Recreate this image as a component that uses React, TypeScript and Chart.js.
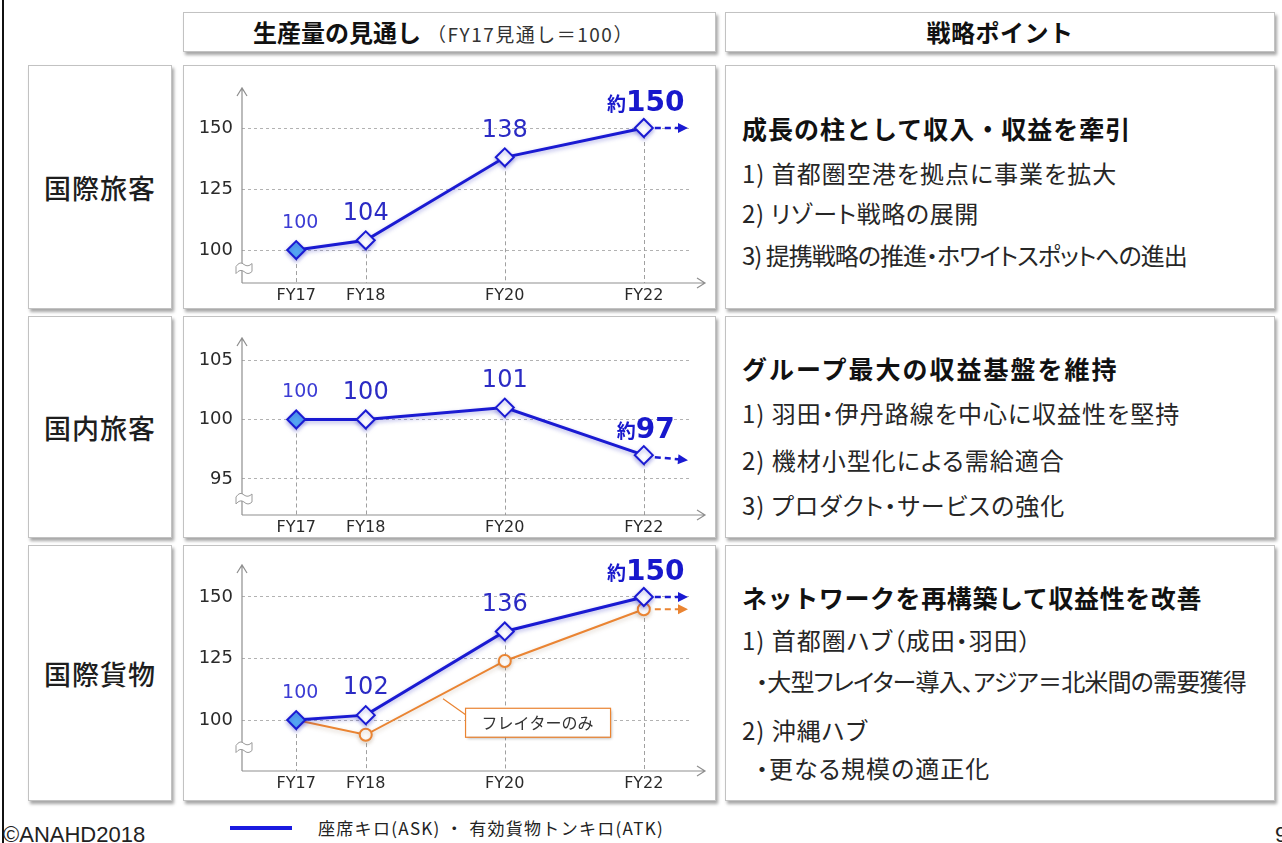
import React, { useEffect, useRef } from 'react';
import { Chart, registerables } from 'chart.js';

Chart.register(...registerables);

// Fiscal years on the horizontal axis and their tick captions
const FY_YEARS = [2017, 2018, 2020, 2022];
const FY_LABELS = ['FY17', 'FY18', 'FY20', 'FY22'];

// Capacity outlook, FY17 = 100
const INTL_PAX = [100, 104, 138, 150];
const DOM_PAX = [100, 100, 101, 97];
const INTL_CARGO = [100, 102, 136, 150];
const FREIGHTER_ONLY = [100, 94, 124, 145];

// Y tick values per panel
const INTL_PAX_TICKS = [100, 125, 150];
const DOM_PAX_TICKS = [95, 100, 105];
const INTL_CARGO_TICKS = [100, 125, 150];

const BLUE = '#1a1ad2';
const ORANGE = '#ea8432';
const JP = '"Noto Sans CJK JP", "Noto Sans", sans-serif';
const NUM = '"DejaVu Sans", Verdana, sans-serif';

type Series = {
  values: number[];
  color: string;
  main: boolean;
  approxLast?: boolean;
  trendDrop?: number;
};

type ChartProps = {
  left: number;
  top: number;
  width: number;
  height: number;
  padTop: number;
  axisY: number;
  yMin: number;
  yMax: number;
  yTicks: number[];
  series: Series[];
  callout?: string;
};

function TrendChart(p: ChartProps) {
  const ref = useRef<HTMLCanvasElement>(null);

  useEffect(() => {
    const canvas = ref.current;
    if (!canvas) return;

    const datasets = p.series.map((s) => ({
      data: FY_YEARS.map((x, i) => ({ x, y: s.values[i] })),
      borderColor: s.color,
      borderWidth: s.main ? 3 : 2,
      pointStyle: s.main ? 'rectRot' : 'circle',
      pointRadius: s.main ? 9 : s.values.map((_, i) => (i === 0 ? 0 : 6)),
      pointHoverRadius: s.main ? 9 : 6,
      pointBorderWidth: 2,
      pointBorderColor: s.color,
      pointBackgroundColor: s.main
        ? s.values.map((_, i) => (i === 0 ? '#55a7f2' : '#ffffff'))
        : '#ffffff',
      tension: 0,
    }));

    const decor = {
      id: 'decor',
      beforeDatasetsDraw(chart: any) {
        const { ctx, chartArea, scales } = chart;
        const L = chartArea.left;
        const B = chartArea.bottom;
        const T = chartArea.top;
        const R = chartArea.right + 16;
        ctx.save();
        // drop lines from the highest series down to the axis
        const meta0 = chart.getDatasetMeta(0);
        ctx.strokeStyle = '#a0a0a0';
        ctx.lineWidth = 1;
        ctx.setLineDash([4, 3]);
        meta0.data.forEach((pt: any) => {
          ctx.beginPath();
          ctx.moveTo(Math.round(pt.x) + 0.5, pt.y);
          ctx.lineTo(Math.round(pt.x) + 0.5, B);
          ctx.stroke();
        });
        ctx.setLineDash([]);
        // axes with open arrow heads
        ctx.strokeStyle = '#8f8f8f';
        ctx.lineWidth = 1.2;
        ctx.beginPath();
        ctx.moveTo(L, B);
        ctx.lineTo(L, T);
        ctx.moveTo(L, B);
        ctx.lineTo(R, B);
        ctx.moveTo(L - 5, T + 8);
        ctx.lineTo(L, T);
        ctx.lineTo(L + 5, T + 8);
        ctx.moveTo(R - 8, B - 5);
        ctx.lineTo(R, B);
        ctx.lineTo(R - 8, B + 5);
        ctx.stroke();
        // axis break mark below the lowest tick
        const low = scales.y.getPixelForValue(p.yTicks[0]);
        const by = (low + B) / 2 + 2;
        const bx = L + 2;
        ctx.beginPath();
        ctx.moveTo(bx - 8, by - 2);
        ctx.quadraticCurveTo(bx - 4, by - 8, bx, by - 4);
        ctx.quadraticCurveTo(bx + 4, by - 1, bx + 8, by - 5);
        ctx.lineTo(bx + 8, by + 3);
        ctx.quadraticCurveTo(bx + 4, by + 7, bx, by + 3);
        ctx.quadraticCurveTo(bx - 4, by, bx - 8, by + 5);
        ctx.closePath();
        ctx.fillStyle = '#ffffff';
        ctx.fill();
        ctx.strokeStyle = '#9a9a9a';
        ctx.lineWidth = 1;
        ctx.stroke();
        ctx.restore();
      },
      beforeDatasetDraw(chart: any, args: any) {
        const { ctx } = chart;
        ctx.save();
        const main = p.series[args.index].main;
        ctx.shadowColor = main ? 'rgba(40,40,190,0.35)' : 'rgba(120,80,40,0.25)';
        ctx.shadowBlur = 4;
        ctx.shadowOffsetY = 2;
      },
      afterDatasetDraw(chart: any) {
        chart.ctx.restore();
      },
      afterDatasetsDraw(chart: any) {
        const { ctx, chartArea } = chart;
        ctx.save();
        // dashed trend arrows beyond the last year
        p.series.forEach((s, si) => {
          const meta = chart.getDatasetMeta(si);
          const last = meta.data[meta.data.length - 1];
          const x0 = last.x + 11;
          const x1 = chartArea.right - 1;
          const y0 = last.y + (s.trendDrop ? 2 : 0);
          const y1 = last.y + (s.trendDrop || 0);
          const ang = Math.atan2(y1 - y0, x1 - x0);
          ctx.strokeStyle = s.color;
          ctx.fillStyle = s.color;
          ctx.lineWidth = s.main ? 2.5 : 2;
          ctx.setLineDash([6, 4]);
          ctx.beginPath();
          ctx.moveTo(x0, y0);
          ctx.lineTo(x1 - 7 * Math.cos(ang), y1 - 7 * Math.sin(ang));
          ctx.stroke();
          ctx.setLineDash([]);
          ctx.beginPath();
          ctx.moveTo(x1, y1);
          ctx.lineTo(x1 - 10 * Math.cos(ang) + 5 * Math.sin(ang), y1 - 10 * Math.sin(ang) - 5 * Math.cos(ang));
          ctx.lineTo(x1 - 10 * Math.cos(ang) - 5 * Math.sin(ang), y1 - 10 * Math.sin(ang) + 5 * Math.cos(ang));
          ctx.closePath();
          ctx.fill();
        });

        // value labels above the main series
        const mainIdx = p.series.findIndex((s) => s.main);
        const ms = p.series[mainIdx];
        const meta = chart.getDatasetMeta(mainIdx);
        meta.data.forEach((pt: any, i: number) => {
          const v = ms.values[i];
          const y = pt.y - 27;
          const isLast = i === meta.data.length - 1;
          if (isLast && ms.approxLast) {
            ctx.textBaseline = 'alphabetic';
            ctx.textAlign = 'left';
            ctx.font = `bold 19px ${JP}`;
            const w1 = ctx.measureText('約').width;
            ctx.font = `bold 28px ${NUM}`;
            const w2 = ctx.measureText(String(v)).width;
            const sx = pt.x - (w1 + w2) / 2 + 2;
            ctx.fillStyle = '#1818cc';
            ctx.font = `bold 19px ${JP}`;
            ctx.fillText('約', sx, y + 10);
            ctx.font = `bold 28px ${NUM}`;
            ctx.fillText(String(v), sx + w1, y + 10);
          } else {
            ctx.textBaseline = 'middle';
            ctx.textAlign = 'center';
            ctx.fillStyle = i === 0 ? '#3c3cd4' : '#2b2bc4';
            ctx.font = i === 0 ? `19px ${NUM}` : `24px ${NUM}`;
            ctx.fillText(String(v), pt.x + (i === 0 ? 4 : 0), y);
          }
        });

        // callout for the secondary series
        if (p.callout) {
          const subIdx = p.series.findIndex((s) => !s.main);
          const sm = chart.getDatasetMeta(subIdx);
          const a = sm.data[1];
          const b = sm.data[2];
          const t = 0.556;
          const ax = a.x + (b.x - a.x) * t;
          const ay = a.y + (b.y - a.y) * t + 5;
          const bx = ax + 22;
          const byy = ay + 9;
          const bw = 145;
          const bh = 29;
          ctx.strokeStyle = ORANGE;
          ctx.lineWidth = 1.2;
          ctx.beginPath();
          ctx.moveTo(ax, ay);
          ctx.lineTo(bx + 2, byy + 8);
          ctx.stroke();
          ctx.save();
          ctx.shadowColor = 'rgba(0,0,0,0.3)';
          ctx.shadowBlur = 3;
          ctx.shadowOffsetX = 2;
          ctx.shadowOffsetY = 2;
          ctx.fillStyle = '#ffffff';
          ctx.fillRect(bx, byy, bw, bh);
          ctx.restore();
          ctx.strokeRect(bx + 0.5, byy + 0.5, bw, bh);
          ctx.fillStyle = '#333333';
          ctx.font = `16px ${JP}`;
          ctx.textAlign = 'center';
          ctx.textBaseline = 'middle';
          ctx.fillText(p.callout, bx + bw / 2, byy + bh / 2 + 1);
        }
        ctx.restore();
      },
    };

    const chart = new Chart(canvas, {
      type: 'line',
      data: { datasets: datasets as any },
      options: {
        responsive: false,
        animation: false,
        devicePixelRatio: 1,
        events: [],
        layout: { padding: { top: p.padTop, right: 27, left: 0, bottom: 0 } },
        plugins: { legend: { display: false }, tooltip: { enabled: false } },
        scales: {
          x: {
            type: 'linear',
            min: 2016.22,
            max: 2022.65,
            afterBuildTicks: (s: any) => {
              s.ticks = FY_YEARS.map((v) => ({ value: v }));
            },
            afterFit: (s: any) => {
              s.height = p.height - p.axisY;
            },
            ticks: {
              autoSkip: false,
              maxRotation: 0,
              padding: 3,
              color: '#2a2a2a',
              font: { family: NUM, size: 16 },
              callback: (v: any) => FY_LABELS[FY_YEARS.indexOf(Number(v))] ?? '',
            },
            grid: { display: false, drawTicks: false },
            border: { display: false },
          },
          y: {
            type: 'linear',
            min: p.yMin,
            max: p.yMax,
            afterBuildTicks: (s: any) => {
              s.ticks = p.yTicks.map((v) => ({ value: v }));
            },
            afterFit: (s: any) => {
              s.width = 59;
            },
            ticks: {
              padding: 9,
              color: '#2a2a2a',
              font: { family: NUM, size: 18 },
              callback: (v: any) => String(v),
            },
            grid: { color: '#b2b2b2', lineWidth: 1, drawTicks: false },
            border: { display: false, dash: [3, 3] },
          },
        },
      },
      plugins: [decor],
    } as any);

    return () => chart.destroy();
  }, []);

  return (
    <canvas
      ref={ref}
      width={p.width}
      height={p.height}
      style={{ position: 'absolute', left: p.left, top: p.top, width: p.width, height: p.height }}
    />
  );
}

const boxStyle: React.CSSProperties = {
  position: 'absolute',
  background: '#ffffff',
  border: '1px solid #c2c2c2',
  boxShadow: '2px 3px 3px rgba(0,0,0,0.35)',
  boxSizing: 'border-box',
};

function Box({ x, y, w, h, children }: { x: number; y: number; w: number; h: number; children?: React.ReactNode }) {
  return <div style={{ ...boxStyle, left: x, top: y, width: w, height: h }}>{children}</div>;
}

function Line({ x, cy, size, bold, text, ls, palt }: { x: number; cy: number; size: number; bold?: boolean; text: string; ls?: number; palt?: boolean }) {
  return (
    <div
      style={{
        position: 'absolute',
        left: x,
        top: cy - 18,
        height: 36,
        lineHeight: '36px',
        fontSize: size,
        fontWeight: bold ? 700 : 400,
        letterSpacing: ls ?? 1,
        color: bold ? '#111111' : '#262626',
        whiteSpace: 'nowrap',
        fontFamily: JP,
        fontFeatureSettings: palt ? '"palt"' : 'normal',
      }}
    >
      {text}
    </div>
  );
}

const ROWS = [
  { top: 65, h: 244, label: '国際旅客' },
  { top: 316, h: 222, label: '国内旅客' },
  { top: 545, h: 256, label: '国際貨物' },
];

export default function App() {
  return (
    <div
      style={{
        position: 'absolute',
        left: 0,
        top: 0,
        width: 1282,
        height: 843,
        overflow: 'hidden',
        background: '#ffffff',
        fontFamily: JP,
      }}
    >
      <div style={{ position: 'absolute', left: 2, top: 0, width: 2, height: 843, background: '#111' }} />

      {/* column headers */}
      <Box x={183} y={12} w={533} h={40}>
        <div style={{ position: 'absolute', left: 0, right: 0, top: 0, height: 38, lineHeight: '38px', textAlign: 'center', whiteSpace: 'nowrap', paddingRight: 12 }}>
          <span style={{ fontSize: 24, fontWeight: 700, color: '#111' }}>生産量の見通し</span>
          <span style={{ fontSize: 19, color: '#333', marginLeft: 6, letterSpacing: 1.5 }}>（FY17見通し＝100）</span>
        </div>
      </Box>
      <Box x={725} y={12} w={550} h={40}>
        <div style={{ position: 'absolute', left: 0, right: 0, top: 0, height: 38, lineHeight: '38px', textAlign: 'center', fontSize: 24, fontWeight: 700, color: '#111', letterSpacing: 0.5 }}>
          戦略ポイント
        </div>
      </Box>

      {ROWS.map((r) => (
        <React.Fragment key={r.label}>
          <Box x={28} y={r.top} w={144} h={r.h}>
            <div style={{ position: 'absolute', left: 0, right: 0, top: 0, bottom: 0, display: 'flex', alignItems: 'center', justifyContent: 'center', fontSize: 27, letterSpacing: 1, color: '#1e1e1e', fontWeight: 500 }}>
              {r.label}
            </div>
          </Box>
          <Box x={183} y={r.top} w={533} h={r.h} />
          <Box x={725} y={r.top} w={550} h={r.h} />
        </React.Fragment>
      ))}

      <TrendChart
        left={183}
        top={65}
        width={533}
        height={244}
        padTop={23}
        axisY={218}
        yMin={86.5}
        yMax={166.4}
        yTicks={INTL_PAX_TICKS}
        series={[{ values: INTL_PAX, color: BLUE, main: true, approxLast: true }]}
      />
      <TrendChart
        left={183}
        top={316}
        width={533}
        height={222}
        padTop={22}
        axisY={199}
        yMin={91.97}
        yMax={106.85}
        yTicks={DOM_PAX_TICKS}
        series={[{ values: DOM_PAX, color: BLUE, main: true, approxLast: true, trendDrop: 5 }]}
      />
      <TrendChart
        left={183}
        top={545}
        width={533}
        height={256}
        padTop={20}
        axisY={226}
        yMin={79.3}
        yMax={163}
        yTicks={INTL_CARGO_TICKS}
        series={[
          { values: INTL_CARGO, color: BLUE, main: true, approxLast: true },
          { values: FREIGHTER_ONLY, color: ORANGE, main: false },
        ]}
        callout="フレイターのみ"
      />

      {/* strategy points */}
      <Line x={742} cy={128} size={25} bold text="成長の柱として収入・収益を牽引" />
      <Line x={742} cy={173} size={24} palt text="1) 首都圏空港を拠点に事業を拡大" />
      <Line x={742} cy={213} size={24} palt ls={0.6} text="2) リゾート戦略の展開" />
      <Line x={742} cy={255} size={24} palt ls={-1} text="3) 提携戦略の推進・ホワイトスポットへの進出" />

      <Line x={742} cy={368} size={25} bold ls={2} text="グループ最大の収益基盤を維持" />
      <Line x={742} cy={413} size={24} palt text="1) 羽田・伊丹路線を中心に収益性を堅持" />
      <Line x={742} cy={460} size={24} palt text="2) 機材小型化による需給適合" />
      <Line x={742} cy={505} size={24} palt text="3) プロダクト・サービスの強化" />

      <Line x={742} cy={597} size={25} bold ls={0.6} text="ネットワークを再構築して収益性を改善" />
      <Line x={742} cy={640} size={24} palt text="1) 首都圏ハブ（成田・羽田）" />
      <Line x={756} cy={681} size={24} palt ls={-0.8} text="・大型フレイター導入、アジア＝北米間の需要獲得" />
      <Line x={742} cy={730} size={24} palt text="2) 沖縄ハブ" />
      <Line x={756} cy={768} size={24} palt text="・更なる規模の適正化" />

      {/* legend and footer */}
      <div style={{ position: 'absolute', left: 230, top: 826, width: 62, height: 4, background: '#1a1ae0' }} />
      <div style={{ position: 'absolute', left: 318, top: 816, height: 24, lineHeight: '24px', fontSize: 17, letterSpacing: 1.3, color: '#222', whiteSpace: 'nowrap' }}>
        座席キロ(ASK) ・ 有効貨物トンキロ(ATK)
      </div>
      <div style={{ position: 'absolute', left: 3, top: 824, height: 22, lineHeight: '22px', fontSize: 22, color: '#222', fontFamily: '"Liberation Sans", Arial, sans-serif', whiteSpace: 'nowrap' }}>
        ©ANAHD2018
      </div>
      <div style={{ position: 'absolute', left: 1275, top: 824, height: 22, lineHeight: '22px', fontSize: 22, color: '#222', fontFamily: '"Liberation Sans", Arial, sans-serif' }}>
        9
      </div>
    </div>
  );
}
